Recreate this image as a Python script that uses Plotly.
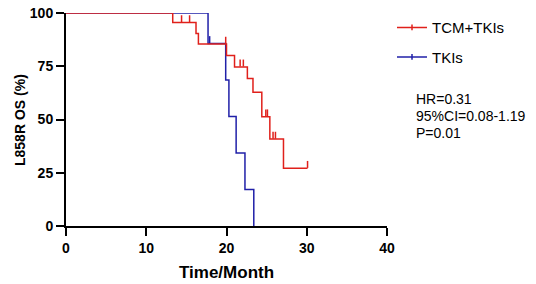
import plotly.graph_objects as go

# Kaplan-Meier steps (time in months, survival %)
red_times = [0, 13.3, 16.2, 16.5, 20.0, 21.0, 22.6, 23.3, 24.4, 25.4, 27.1, 30.1]
red_surv = [100, 95.5, 90.4, 85.4, 80.1, 74.7, 69.3, 62.8, 51.3, 40.8, 27.1, 27.1]
red_cens_t = [14.4, 15.4, 19.9, 21.7, 22.1, 24.9, 25.1, 25.8, 26.1, 30.1]
red_cens_s = [95.5, 95.5, 85.4, 74.7, 74.7, 51.3, 51.3, 40.8, 40.8, 27.1]

blue_times = [0, 17.7, 19.9, 20.3, 21.2, 22.3, 23.4]
blue_surv = [100, 85.7, 68.6, 51.4, 34.3, 17.1, 0]
blue_cens_t = [8.9, 10.1, 12.2, 17.9]
blue_cens_s = [100, 100, 100, 85.7]

series_names = ["TCM+TKIs", "TKIs"]
stats_lines = ["HR=0.31", "95%CI=0.08-1.19", "P=0.01"]
x_ticks = [0, 10, 20, 30, 40]
y_ticks = [0, 25, 50, 75, 100]
x_title = "Time/Month"
y_title = "L858R OS (%)"

RED = "#E0201B"
BLUE = "#2020A8"
FONT = "Arial, Liberation Sans, sans-serif"

W, H = 536, 284
L, R, T, B = 66, 149, 13, 58
PW, PH = W - L - R, H - T - B


def px_x(p):
    return (p - L) / PW


def px_y(p):
    return (H - B - p) / PH


fig = go.Figure()
for t, s, ct, cs, col in [
    (blue_times, blue_surv, blue_cens_t, blue_cens_s, BLUE),
    (red_times, red_surv, red_cens_t, red_cens_s, RED),
]:
    fig.add_trace(go.Scatter(x=t, y=s, mode="lines", line=dict(color=col, width=1.5, shape="hv"),
                             showlegend=False, cliponaxis=False, hoverinfo="skip"))
    fig.add_trace(go.Scatter(x=ct, y=[v + 1.8 for v in cs], mode="markers",
                             marker=dict(symbol="line-ns", size=5, line=dict(color=col, width=1.5)),
                             showlegend=False, cliponaxis=False))

# legend entries
for name, col, grp in [(series_names[0], RED, "a"), (series_names[1], BLUE, "b")]:
    fig.add_trace(go.Scatter(x=[None], y=[None], mode="lines+markers", name=name, legendgroup=grp,
                             line=dict(color=col, width=1.5),
                             marker=dict(symbol="line-ns", size=4, line=dict(color=col, width=1.5))))

for i, txt in enumerate(stats_lines):
    fig.add_annotation(text=txt, xref="paper", yref="paper", x=px_x(414),
                       y=px_y(99 + 17 * i), xanchor="left", yanchor="middle",
                       showarrow=False, font=dict(family=FONT, size=14, color="black"))

fig.add_annotation(text=f"<b>{y_title}</b>", xref="paper", yref="paper", x=px_x(20), y=px_y(120),
                   xanchor="center", yanchor="middle", textangle=-90, showarrow=False,
                   font=dict(family=FONT, size=14, color="black"))
fig.add_annotation(text=f"<b>{x_title}</b>", xref="paper", yref="paper", x=px_x(227), y=px_y(272),
                   xanchor="center", yanchor="middle", showarrow=False,
                   font=dict(family=FONT, size=17, color="black"))

axis_common = dict(showline=True, linecolor="black", linewidth=2, ticks="outside", ticklen=8,
                   tickwidth=2, tickcolor="black", showgrid=False, zeroline=False, automargin=False,
                   tickfont=dict(family=FONT, size=14, color="black"))

fig.update_layout(
    width=W, height=H,
    margin=dict(l=L, r=R, t=T, b=B, autoexpand=False),
    plot_bgcolor="white", paper_bgcolor="white",
    xaxis=dict(range=[0, 40], tickvals=x_ticks, ticktext=[f"<b>{v}</b>" for v in x_ticks], **axis_common),
    yaxis=dict(range=[0, 100], tickvals=y_ticks, ticktext=[f"<b>{v}</b>" for v in y_ticks], **axis_common),
    legend=dict(x=px_x(392), y=px_y(12) + 0.004, xanchor="left", yanchor="top", tracegroupgap=7,
                font=dict(family=FONT, size=15, color="black"),
                bgcolor="rgba(0,0,0,0)", itemwidth=30),
)

fig.write_html("out.html", config={"displayModeBar": False},
               post_script="document.body.style.margin='0';document.body.style.overflow='hidden';")
